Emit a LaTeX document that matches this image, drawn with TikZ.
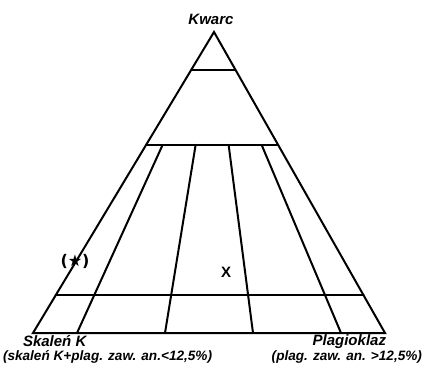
\documentclass[tikz,border=0pt]{standalone}
\usepackage{fontspec}
\setmainfont{Liberation Sans}
\newfontfamily\symfont{DejaVu Sans}
\usetikzlibrary{calc}

\begin{document}
\begin{tikzpicture}[x=1pt,y=-1pt,line width=2pt,line cap=round,
  lbl/.style={font=\bfseries\itshape\fontsize{15}{15}\selectfont,inner sep=0pt},
  sublbl/.style={font=\bfseries\itshape\fontsize{13.6}{14}\selectfont,inner sep=0pt}]
\useasboundingbox (0,0) rectangle (425,367);
% corners of the triangle
\coordinate (Q) at (214,32);
\coordinate (A) at (33,333);
\coordinate (P) at (385,333);
\draw (A) -- (Q) -- (P) -- cycle;
% horizontal lines
\foreach \f in {0.125,0.625,0.875}{
  \coordinate (hl) at ($(A)!\f!(Q)$);
  \coordinate (hr) at ($(P)!\f!(Q)$);
  \draw (hl) -- (hr);
}
% lines towards Q
\foreach \f in {0.125,0.375,0.625,0.875}{
  \coordinate (b) at ($(A)!\f!(P)$);
  \coordinate (t) at ($(b)!0.625!(Q)$);
  \draw (b) -- (t);
}
% labels
\node[lbl,anchor=base] (kwarc) at (211,24) {Kwarc};
\node[lbl,anchor=base west] (skalen) at (22,346) {Skaleń K};
\node[sublbl,anchor=base west] (skalen2) at (2,360.5) {(skaleń K+plag. zaw. an.<12,5\%)};
\node[lbl,anchor=base east] (plag) at (387,345.5) {Plagioklaz};
\node[sublbl,anchor=base east] (plag2) at (423,360.5) {(plag. zaw. an. >12,5\%)};
% samples
\node[font=\symfont\bfseries\fontsize{16}{16}\selectfont,inner sep=0pt] (star) at (75,261) {(★)};
\node[font=\bfseries\fontsize{15}{15}\selectfont,inner sep=0pt] (xs) at (226,272) {X};
\end{tikzpicture}
\end{document}
